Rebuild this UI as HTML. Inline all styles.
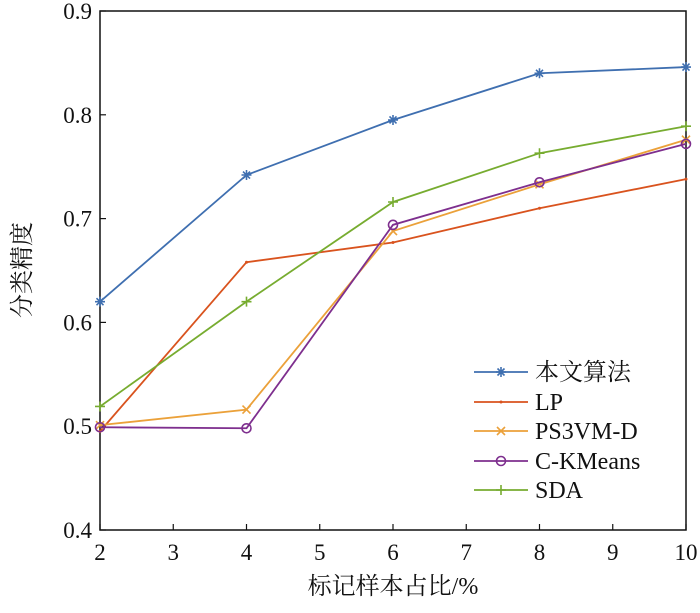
<!DOCTYPE html>
<html><head><meta charset="utf-8"><style>
body{margin:0;background:#fff}
svg text{font-family:"Liberation Serif","Noto Serif CJK SC",serif;fill:#111}
</style></head><body>
<svg width="700" height="608" xmlns="http://www.w3.org/2000/svg">
<g id="plot"></g>
</svg>
<script>
const xValues=[2,4,6,8,10];
const seriesNames=["本文算法","LP","PS3VM-D","C-KMeans","SDA"];
const sBlue=[0.620,0.742,0.795,0.840,0.846];
const sLP=[0.495,0.658,0.677,0.710,0.738];
const sPS=[0.501,0.516,0.688,0.733,0.776];
const sCK=[0.499,0.498,0.694,0.735,0.772];
const sSDA=[0.519,0.620,0.716,0.763,0.789];
const xTicks=[2,3,4,5,6,7,8,9,10];
const yTicks=[0.4,0.5,0.6,0.7,0.8,0.9];
const colors=["#3f6fb0","#d9531e","#eba13a","#7e2f8e","#77ac30"];
const markers=["star","dot","x","circle","plus"];
const allSeries=[sBlue,sLP,sPS,sCK,sSDA];
const L=100,R=686,T=11,B=530;
const X=v=>L+(v-2)/8*(R-L);
const Y=v=>B-(v-0.4)/0.5*(B-T);
const NS="http://www.w3.org/2000/svg";
const g=document.getElementById('plot');
function mk(t,a,p){const e=document.createElementNS(NS,t);for(const k in a)e.setAttribute(k,a[k]);(p||g).appendChild(e);return e;}
function marker(type,x,y,c,p){
 const gg=mk('g',{},p);
 if(type==="star"){mk('path',{d:`M${x-5},${y}H${x+5}M${x},${y-5}V${y+5}M${x-3.5},${y-3.5}L${x+3.5},${y+3.5}M${x-3.5},${y+3.5}L${x+3.5},${y-3.5}`,stroke:c,'stroke-width':1.6},gg);}
 else if(type==="dot"){mk('circle',{cx:x,cy:y,r:1.5,fill:c},gg);}
 else if(type==="x"){mk('path',{d:`M${x-4},${y-4}L${x+4},${y+4}M${x-4},${y+4}L${x+4},${y-4}`,stroke:c,'stroke-width':1.6},gg);}
 else if(type==="circle"){mk('circle',{cx:x,cy:y,r:4.5,fill:'none',stroke:c,'stroke-width':1.6},gg);}
 else {mk('path',{d:`M${x-5},${y}H${x+5}M${x},${y-5}V${y+5}`,stroke:c,'stroke-width':1.6},gg);}
 return gg;
}
// axes box
const box=mk('rect',{x:L,y:T,width:R-L,height:B-T,fill:'none',stroke:'#111','stroke-width':1.5});


xTicks.forEach(t=>{
 const x=X(t);
 mk('line',{x1:x,x2:x,y1:B,y2:B-6,stroke:'#111','stroke-width':1.2});
 const tx=mk('text',{x:x,y:B+30,'text-anchor':'middle','font-size':23});
 tx.textContent=t;
 
 
});
yTicks.forEach(t=>{
 const y=Y(t);
 mk('line',{x1:L,x2:L+6,y1:y,y2:y,stroke:'#111','stroke-width':1.2});
 const tx=mk('text',{x:L-8,y:y+8,'text-anchor':'end','font-size':23});
 tx.textContent=t.toFixed(1);
 
 
});
const xl=mk('text',{x:393,y:594,'text-anchor':'middle','font-size':24});
xl.textContent="标记样本占比/%";


const yl=mk('text',{x:0,y:0,'text-anchor':'middle','font-size':24,transform:'translate(30,270) rotate(-90)'});
yl.textContent="分类精度";


allSeries.forEach((s,i)=>{
 const sg=mk('g',{});
 
 
 mk('polyline',{points:s.map((v,j)=>X(xValues[j])+','+Y(v)).join(' '),fill:'none',stroke:colors[i],'stroke-width':1.8},sg);
 s.forEach((v,j)=>{const m=marker(markers[i],X(xValues[j]),Y(v),colors[i],sg);
  
  });
});
// legend
const lg=mk('g',{});


const rowsY=[372,402,431,461,490];
seriesNames.forEach((n,i)=>{
 const eg=mk('g',{},lg);
 
 
 const y=rowsY[i];
 mk('line',{x1:474,x2:528,y1:y,y2:y,stroke:colors[i],'stroke-width':1.8},eg);
 marker(markers[i],501,y,colors[i],eg);
 const t=mk('text',{x:535,y:y+8,'font-size':24},eg);
 t.textContent=n;
});
</script>
</body></html>
